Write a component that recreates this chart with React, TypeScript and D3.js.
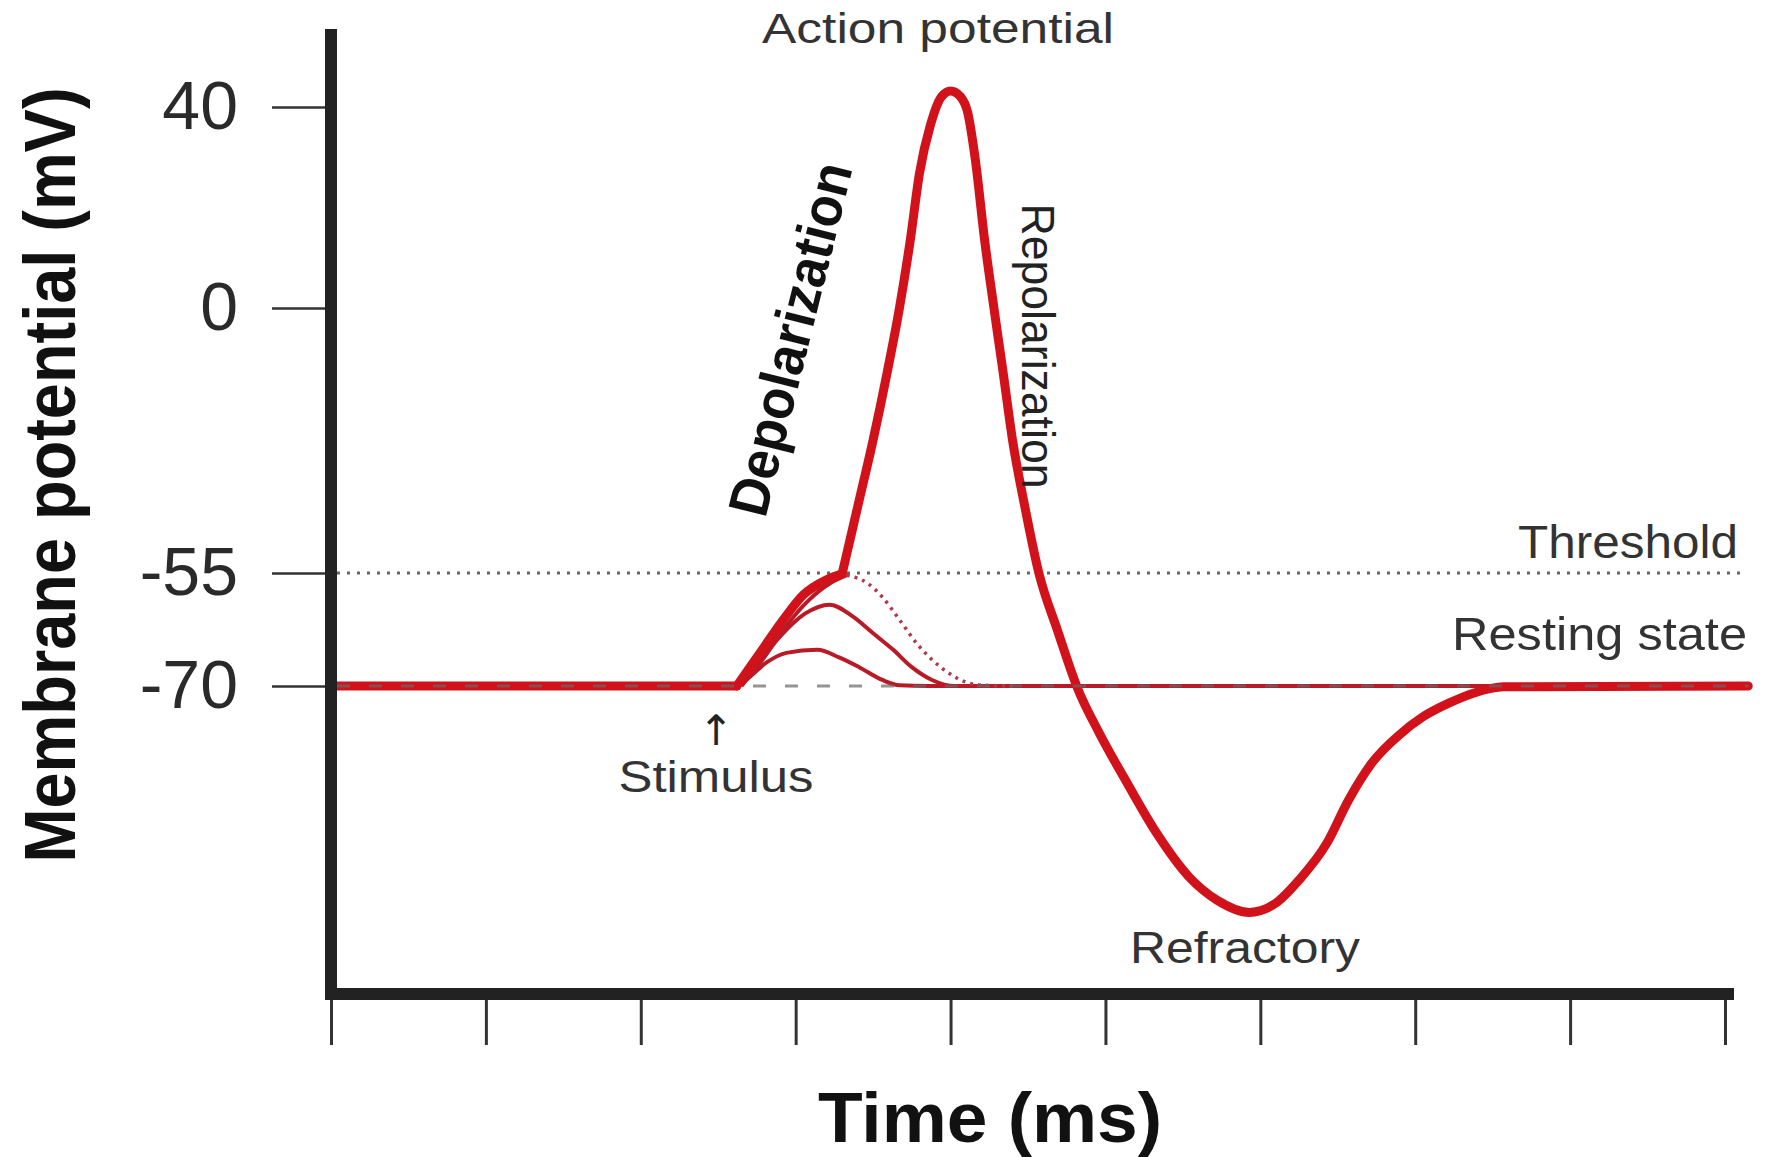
import React, { useRef, useEffect } from "react";
import * as d3 from "d3";

// axis ticks
const timeTicks = [0, 1, 2, 3, 4, 5, 6, 7, 8, 9];
const voltageTicks = [40, 0, -55, -70];
const thresholdMv = -55;
const restingMv = -70;
const traceEnd = 9.15;

// main trace, [time (ms), membrane potential (mV)], split at its two corners
const restBefore: [number, number][] = [
  [0, -70], [2.62, -70],
];

const stimulusRise: [number, number][] = [
  [2.62, -70], [2.77, -65.6], [2.92, -61.2], [3.05, -57.9], [3.2, -55.9], [3.3, -55.1],
];

const spike: [number, number][] = [
  [3.3, -55.1], [3.4, -41.3], [3.5, -27.4], [3.59, -13.5], [3.67, 0], [3.74, 13.5],
  [3.8, 26.9], [3.87, 36.4], [3.94, 42], [4, 43.2], [4.06, 42.2], [4.11, 39],
  [4.16, 29.5], [4.22, 13.5], [4.28, 0], [4.34, -13.5], [4.4, -27.4], [4.48, -41.3],
  [4.57, -55], [4.69, -62.6], [4.82, -70.3], [4.96, -76.1], [5.14, -82.6], [5.33, -89.1],
  [5.54, -94.8], [5.72, -97.8], [5.93, -99.4], [6.1, -98.2], [6.25, -95.2], [6.43, -90.4],
  [6.57, -84.8], [6.72, -80], [6.9, -76.3], [7.05, -74], [7.22, -72.2], [7.38, -70.9],
  [7.57, -70.1], [9.15, -70],
];

// small sub-threshold response, continues as resting line
const smallBump: [number, number][] = [
  [2.62, -70], [2.68, -69.2], [2.81, -66.9], [2.94, -65.6], [3.14, -65.2], [3.28, -66.2],
  [3.41, -67.5], [3.56, -69.2], [3.67, -69.9], [3.86, -70], [9.15, -70],
];

const mediumBump: [number, number][] = [
  [2.62, -70], [2.75, -67.1], [2.9, -63.4], [3.06, -60.4], [3.22, -59.2], [3.37, -60.8],
  [3.5, -63], [3.63, -65.2], [3.75, -67.5], [3.88, -69.2], [4.03, -70], [4.25, -70],
];

const thresholdRise: [number, number][] = [
  [2.65, -70], [2.79, -66.4], [2.94, -62], [3.08, -58.7], [3.22, -56.4], [3.33, -55.3],
];

const thresholdDecay: [number, number][] = [
  [3.33, -55.3], [3.46, -56.3], [3.56, -58.2], [3.67, -61.2], [3.78, -64.3], [3.88, -66.5],
  [3.99, -68.3], [4.1, -69.5], [4.21, -69.9], [4.43, -70],
];

const FONT = "'Liberation Sans', Arial, Helvetica, sans-serif";
const NARROW = "'Liberation Sans Narrow', 'Liberation Sans', Arial, sans-serif";

function ActionPotentialChart() {
  const svgRef = useRef<SVGSVGElement>(null);
  const width = 1770;
  const height = 1157;

  useEffect(() => {
    const svg = d3.select(svgRef.current);
    svg.selectAll("*").remove();

    const x = d3.scaleLinear().domain([0, 9]).range([331, 1725]);
    // schematic axis: unevenly spaced ticks
    const y = d3
      .scaleLinear()
      .domain([-110, -70, -55, 0, 40])
      .range([994, 686, 573, 308, 107]);

    const line = d3
      .line<[number, number]>()
      .x((d) => x(d[0]))
      .y((d) => y(d[1]))
      .curve(d3.curveMonotoneX);

    const red = "#d2121b";
    const darkRed = "#b81a26";

    // threshold dotted line
    svg
      .append("line")
      .attr("x1", x(0) + 6)
      .attr("x2", x(9.1))
      .attr("y1", y(thresholdMv))
      .attr("y2", y(thresholdMv))
      .attr("stroke", "#666")
      .attr("stroke-width", 3)
      .attr("stroke-dasharray", "3 7");

    // sub-threshold responses
    [smallBump, mediumBump, thresholdRise].forEach((s) => {
      svg
        .append("path")
        .attr("d", line(s))
        .attr("fill", "none")
        .attr("stroke", darkRed)
        .attr("stroke-width", 4);
    });
    svg
      .append("path")
      .attr("d", line(thresholdDecay))
      .attr("fill", "none")
      .attr("stroke", "#b03a4a")
      .attr("stroke-width", 3.5)
      .attr("stroke-dasharray", "3 5");

    // main trace
    [restBefore, stimulusRise, spike].forEach((s) => {
      svg
        .append("path")
        .attr("d", line(s))
        .attr("fill", "none")
        .attr("stroke", red)
        .attr("stroke-width", 9)
        .attr("stroke-linecap", "round")
        .attr("stroke-linejoin", "round");
    });

    // resting level dashes
    svg
      .append("line")
      .attr("x1", x(0) + 6)
      .attr("x2", x(traceEnd))
      .attr("y1", y(restingMv))
      .attr("y2", y(restingMv))
      .attr("stroke", "#666")
      .attr("stroke-opacity", 0.7)
      .attr("stroke-width", 3)
      .attr("stroke-dasharray", "13 19");

    // y ticks
    const yAxis = svg
      .append("g")
      .attr("transform", "translate(325,0)")
      .call(
        d3
          .axisLeft(y)
          .tickValues(voltageTicks)
          .tickSize(53)
          .tickPadding(34)
          .tickFormat((d) => String(d))
      );
    yAxis.select(".domain").remove();
    yAxis.selectAll(".tick line").attr("stroke", "#333").attr("stroke-width", 2.5);
    yAxis
      .selectAll(".tick text")
      .attr("font-family", FONT)
      .attr("font-size", 68)
      .attr("fill", "#2a2a2a");

    // x ticks
    const xAxis = svg
      .append("g")
      .attr("transform", "translate(0,1000)")
      .call(
        d3
          .axisBottom(x)
          .tickValues(timeTicks)
          .tickSize(45)
          .tickFormat(() => "")
      );
    xAxis.select(".domain").remove();
    xAxis.selectAll(".tick line").attr("stroke", "#333").attr("stroke-width", 3);

    // thick axis frame
    svg
      .append("path")
      .attr("d", `M${x(0)},${y(40) - 78}V${y(-110)}H${x(9) + 9}`)
      .attr("fill", "none")
      .attr("stroke", "#222")
      .attr("stroke-width", 12)
      .attr("stroke-linejoin", "miter");

    // axis titles
    svg
      .append("text")
      .attr("transform", "translate(75,475) rotate(-90)")
      .attr("text-anchor", "middle")
      .attr("font-family", NARROW)
      .attr("font-weight", "bold")
      .attr("font-size", 72)
      .attr("textLength", 775)
      .attr("lengthAdjust", "spacingAndGlyphs")
      .attr("fill", "#111")
      .text("Membrane potential (mV)");

    svg
      .append("text")
      .attr("x", 990)
      .attr("y", 1142)
      .attr("text-anchor", "middle")
      .attr("font-family", NARROW)
      .attr("font-weight", "bold")
      .attr("font-size", 70)
      .attr("textLength", 344)
      .attr("lengthAdjust", "spacingAndGlyphs")
      .attr("fill", "#111")
      .text("Time (ms)");

    // annotations
    const notes = [
      { text: "Action potential", x: 938, y: 43, size: 43, len: 352, anchor: "middle" },
      { text: "Threshold", x: 1738, y: 558, size: 46, len: 220, anchor: "end" },
      { text: "Resting state", x: 1747, y: 650, size: 46, len: 295, anchor: "end" },
      { text: "Stimulus", x: 716, y: 792, size: 44, len: 195, anchor: "middle" },
      { text: "Refractory", x: 1245, y: 963, size: 44, len: 230, anchor: "middle" },
    ];
    notes.forEach((n) => {
      svg
        .append("text")
        .attr("x", n.x)
        .attr("y", n.y)
        .attr("text-anchor", n.anchor)
        .attr("font-family", FONT)
        .attr("font-size", n.size)
        .attr("textLength", n.len)
        .attr("lengthAdjust", "spacingAndGlyphs")
        .attr("fill", "#333")
        .text(n.text);
    });

    svg
      .append("text")
      .attr("x", 716)
      .attr("y", 745)
      .attr("text-anchor", "middle")
      .attr("font-family", "'DejaVu Sans', sans-serif")
      .attr("font-size", 42)
      .attr("fill", "#222")
      .text("↑");

    svg
      .append("text")
      .attr("transform", "translate(790,339) rotate(-76)")
      .attr("text-anchor", "middle")
      .attr("dy", "0.35em")
      .attr("font-family", NARROW)
      .attr("font-weight", "bold")
      .attr("font-size", 56)
      .attr("textLength", 362)
      .attr("lengthAdjust", "spacingAndGlyphs")
      .attr("fill", "#111")
      .text("Depolarization");

    svg
      .append("text")
      .attr("transform", "translate(1022,346) rotate(90)")
      .attr("text-anchor", "middle")
      .attr("font-family", FONT)
      .attr("font-size", 46)
      .attr("textLength", 285)
      .attr("lengthAdjust", "spacingAndGlyphs")
      .attr("fill", "#222")
      .text("Repolarization");
  }, []);

  return (
    <svg
      ref={svgRef}
      width={width}
      height={height}
      style={{ position: "absolute", left: 0, top: 0, background: "#fff" }}
    />
  );
}

export default function App() {
  return <ActionPotentialChart />;
}
